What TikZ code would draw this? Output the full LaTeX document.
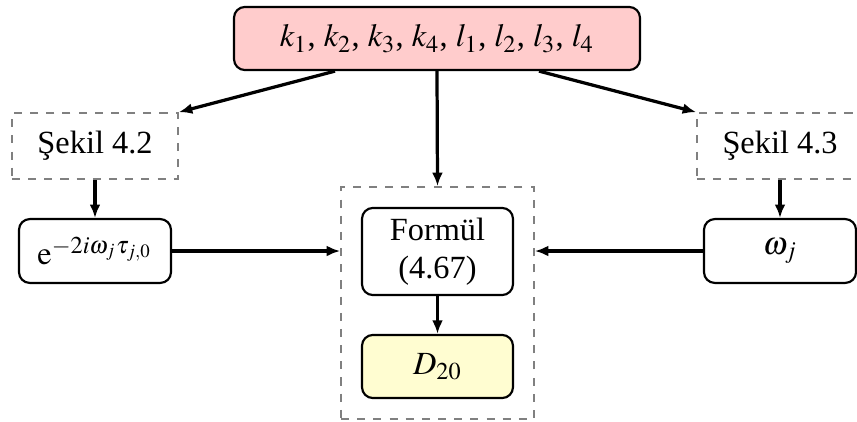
\documentclass[tikz,border=0pt]{standalone}
\usepackage{mathptmx}
\usepackage{fontspec}
\setmainfont{Liberation Serif}
\usetikzlibrary{positioning,fit,calc,arrows.meta}
\tikzset{
  kutu/.style={draw,rounded corners=4pt,line width=0.8pt,align=center,font=\fontsize{12}{14}\selectfont},
  sekil/.style={draw=gray,dashed,line width=0.6pt,minimum width=61.6pt,minimum height=24.5pt,font=\fontsize{12}{14}\selectfont},
  ok/.style={line width=1.2pt,-{Latex[length=5pt,width=4pt]}}
}
\begin{document}
\begin{tikzpicture}[x=0.371pt,y=-0.371pt]
        \clip(0,0)rectangle(857,421);
        \node[kutu,fill=red!20,minimum width=150.6pt,minimum height=23.4pt](top)at(437,38.5){$k_1$, $k_2$, $k_3$, $k_4$, $l_1$, $l_2$, $l_3$, $l_4$};
        \node[sekil](sek42)at(95,146){Şekil 4.2};
        \node[sekil](sek43)at(780,146){Şekil 4.3};
        \node[kutu,minimum width=56.4pt,minimum height=23.7pt](expn)at(95,251){$\mathrm{e}^{-2i\omega_j\tau_{j,0}}$};
        \node[kutu,minimum width=56.4pt,minimum height=23.7pt](omega)at(780,251){$\omega_j$};
        \node[kutu,minimum width=56pt,minimum height=32.3pt](formul)at(437.5,251.5){Formül\\(4.67)};
        \node[kutu,fill=yellow!18,minimum width=56pt,minimum height=23.4pt](D20)at(437.5,366.5){$D_{20}$};
        \node[draw=gray,dashed,line width=0.6pt,inner sep=7.4pt,fit=(formul)(D20)](grup){};
        \draw[ok]($(top.south)!0.5!(top.south west)$)--(sek42.north east);
        \draw[ok]($(top.south)!0.5!(top.south east)$)--(sek43.north west);
        \draw[ok](top.south)--(grup.north);
        \draw[ok](sek42.south)--(expn.north);
        \draw[ok](sek43.south)--(omega.north);
        \draw[ok](expn.east)--(expn.east-|grup.west);
        \draw[ok](omega.west)--(omega.west-|grup.east);
        \draw[ok](formul.south)--(D20.north);
    \end{tikzpicture}
\end{document}
